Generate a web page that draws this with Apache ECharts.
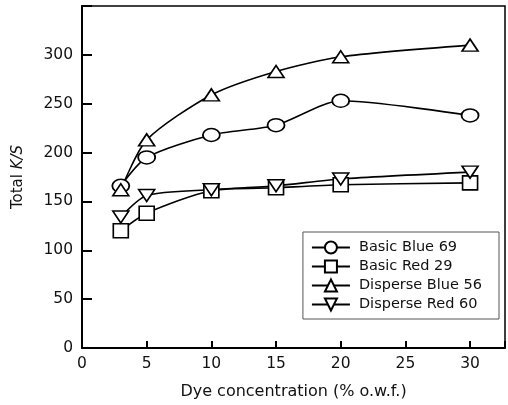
<!DOCTYPE html>
<html><head><meta charset="utf-8">
<script src="https://cdn.jsdelivr.net/npm/echarts@6/dist/echarts.min.js"></script>
<style>html,body{margin:0;padding:0;background:#fff}#c{width:508px;height:405px}</style>
</head><body><div id="c"></div>
<script>
var concentration = [3, 5, 10, 15, 20, 30];
var basicBlue69 = [166, 195, 218, 228, 253, 238];
var basicRed29 = [120, 138, 161, 164, 167, 169];
var disperseBlue56 = [162, 213, 259, 283, 298, 310];
var disperseRed60 = [134, 156, 162, 166, 173, 180];
var yTicks = [0, 50, 100, 150, 200, 250, 300];
var xTicks = [0, 5, 10, 15, 20, 25, 30];

var FONT = 'DejaVu Sans';
var triDown = 'path://M0,0 L10,0 L5,9 Z';
var triUp = 'path://M5,0 L10,9 L0,9 Z';

function pts(v){ return concentration.map(function(x,i){ return [x, v[i]]; }); }
function mk(name, data, symbol, size){
  return {
    name: name, type: 'line', data: pts(data), smooth: 0.25,
    symbol: symbol, symbolSize: size, showAllSymbol: true,
    lineStyle: {color: '#000', width: 1.6},
    itemStyle: {color: '#fff', borderColor: '#000', borderWidth: 1.6},
    z: 3
  };
}
var chart = echarts.init(document.getElementById('c'));
chart.setOption({
  animation: false,
  backgroundColor: '#fff',
  grid: {left: 82, top: 6, right: 0, bottom: 56, show: true, borderColor: '#000', borderWidth: 1.5, backgroundColor: 'transparent'},
  legend: {
    right: 9, top: 232, orient: 'vertical', itemGap: 4, itemWidth: 38, itemHeight: 15,
    padding: [8, 17, 7, 8],
    borderColor: '#555', borderWidth: 1, backgroundColor: '#fff',
    textStyle: {fontFamily: FONT, fontSize: 14.5, color: '#111', padding: [0, 0, 0, 4]},
    data: ['Basic Blue 69', 'Basic Red 29', 'Disperse Blue 56', 'Disperse Red 60']
  },
  xAxis: {
    type: 'value', min: 0, max: 32.7, interval: 5,
    name: 'Dye concentration (% o.w.f.)', nameLocation: 'middle', nameGap: 36,
    nameTextStyle: {fontFamily: FONT, fontSize: 16, color: '#111'},
    axisLine: {lineStyle: {color: '#000', width: 2}},
    axisTick: {inside: true, length: 7, lineStyle: {color: '#000', width: 2}},
    axisLabel: {fontFamily: FONT, fontSize: 15.5, color: '#111', margin: 8,
      formatter: function(v){ return xTicks.indexOf(v) >= 0 ? String(v) : ''; }},
    splitLine: {show: false}
  },
  yAxis: {
    type: 'value', min: 0, max: 350, interval: 50,
    name: '{a|Total }{b|K/S}', nameLocation: 'middle', nameGap: 56, nameRotate: 90,
    nameTextStyle: {rich: {
      a: {fontFamily: FONT, fontSize: 15, color: '#111'},
      b: {fontFamily: FONT, fontSize: 15, color: '#111', fontStyle: 'italic'}}},
    axisLine: {lineStyle: {color: '#000', width: 2}},
    axisTick: {inside: true, length: 10, lineStyle: {color: '#000', width: 2}},
    axisLabel: {fontFamily: FONT, fontSize: 15.5, color: '#111', margin: 9,
      formatter: function(v){ return yTicks.indexOf(v) >= 0 ? String(v) : ''; }},
    splitLine: {show: false}
  },
  series: [
    mk('Basic Blue 69', basicBlue69, 'circle', [17, 13]),
    mk('Basic Red 29', basicRed29, 'rect', [15, 14]),
    mk('Disperse Blue 56', disperseBlue56, triUp, [16, 12]),
    mk('Disperse Red 60', disperseRed60, triDown, [16, 12])
  ]
});
</script></body></html>
